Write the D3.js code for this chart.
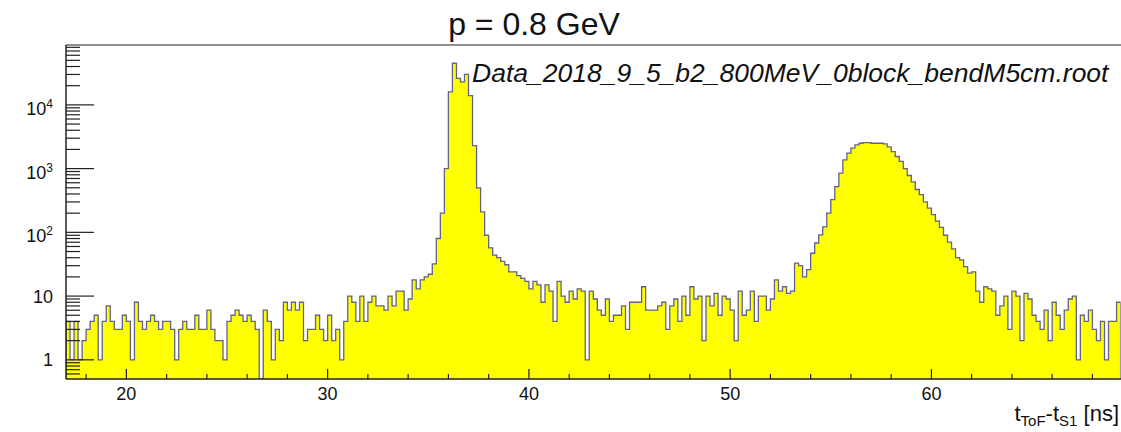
<!DOCTYPE html>
<html>
<head>
<meta charset="utf-8">
<script src="https://cdn.jsdelivr.net/npm/d3@7"></script>
<style>
  body { margin: 0; background: #fff; }
  svg { display: block; font-family: "Liberation Sans", Arial, Helvetica, sans-serif; }
</style>
</head>
<body>
<div id="chart"></div>
<script>
// ---- histogram data (0.2 ns bins starting at 17 ns) ----
const binStart = 17.0;
const binWidth = 0.2;
const counts = [
  4, 1, 4, 1, 2, 3, 4, 5, 1, 4,
  7, 4, 3, 3, 5, 4, 1, 8, 4, 3,
  4, 5, 4, 3, 4, 4, 3, 1, 3, 4,
  3, 3, 5, 3, 3, 6, 3, 2, 2, 1,
  4, 5, 6, 5, 4, 5, 4, 3, 0, 6,
  4, 1, 3, 2, 8, 6, 8, 6, 8, 2,
  3, 3, 5, 3, 2, 5, 2, 3, 1, 4,
  10, 8, 4, 10, 4, 8, 10, 7, 7, 6,
  10, 7, 12, 12, 6, 9, 18, 13, 18, 20,
  22, 32, 80, 200, 1000, 16000, 45000, 26000, 23000, 30000,
  14000, 2300, 500, 210, 90, 57, 44, 40, 35, 31,
  24, 24, 21, 19, 17, 13, 17, 15, 8, 15,
  12, 4, 17, 10, 8, 12, 9, 13, 12, 1,
  12, 9, 6, 5, 9, 4, 5, 5, 7, 3,
  8, 8, 8, 14, 6, 6, 6, 7, 8, 3,
  7, 9, 4, 10, 5, 14, 9, 10, 2, 10,
  7, 11, 5, 10, 9, 6, 2, 12, 5, 6,
  12, 4, 10, 10, 6, 9, 18, 12, 14, 11,
  12, 33, 30, 20, 26, 47, 68, 91, 122, 200,
  325, 520, 850, 1370, 1750, 2100, 2350, 2500, 2550, 2550,
  2500, 2500, 2500, 2450, 2200, 1850, 1550, 1300, 1000, 780,
  620, 470, 390, 300, 240, 190, 150, 120, 90, 70,
  55, 40, 37, 29, 23, 24, 12, 8, 14, 13,
  12, 5, 7, 10, 3, 12, 10, 2, 11, 9,
  5, 4, 3, 6, 2, 8, 5, 3, 6, 9,
  10, 1, 5, 4, 6, 3, 2, 4, 1, 4,
  4, 8
];

const xRange = [17, 69.4];
const yRange = [0.5, 87000];
const xMajorTicks = [20, 30, 40, 50, 60];
const xMinorStep = 2;
const yMajorTicks = [1, 10, 100, 1000, 10000];
const yTickBase = ["1", "10", "10", "10", "10"];
const yTickExp = ["", "", "2", "3", "4"];

const titleText = "p = 0.8 GeV";
const fileText = "Data_2018_9_5_b2_800MeV_0block_bendM5cm.root";

// ---- layout ----
const width = 1121, height = 432;
const frame = { left: 66, top: 45, right: 1120.6, bottom: 379 };

const svg = d3.select("#chart").append("svg")
    .attr("width", width)
    .attr("height", height);

const x = d3.scaleLinear().domain(xRange).range([frame.left, frame.right]);
const y = d3.scaleLog().domain(yRange).range([frame.bottom, frame.top]).clamp(true);

// bins
let bins = counts.map((c, i) => ({
    x0: binStart + i * binWidth,
    x1: binStart + (i + 1) * binWidth,
    v: c
}));

svg.append("clipPath").attr("id", "frameClip")
  .append("rect")
    .attr("x", frame.left).attr("y", frame.top)
    .attr("width", frame.right - frame.left)
    .attr("height", frame.bottom - frame.top);

// step outline points
let pts = [[x(bins[0].x0), frame.bottom]];
bins.forEach(b => {
    let yy = b.v > 0 ? y(b.v) : frame.bottom;
    pts.push([x(b.x0), yy]);
    pts.push([x(b.x1), yy]);
});
pts.push([x(bins[bins.length - 1].x1), frame.bottom]);

let line = d3.line();

let histG = svg.append("g").attr("clip-path", "url(#frameClip)");

histG.append("path")
    .attr("d", line(pts) + "Z")
    .attr("fill", "#ffff00")
    .attr("stroke", "none");

histG.append("path")
    .attr("d", line(pts))
    .attr("fill", "none")
    .attr("stroke", "#62628a")
    .attr("stroke-width", 1.3);

// frame
let axisColor = "#222";
svg.append("line")
    .attr("x1", frame.left).attr("x2", width)
    .attr("y1", frame.top).attr("y2", frame.top)
    .attr("stroke", axisColor).attr("stroke-width", 1.2);
svg.append("line")
    .attr("x1", frame.left).attr("x2", width)
    .attr("y1", frame.bottom).attr("y2", frame.bottom)
    .attr("stroke", axisColor).attr("stroke-width", 1.5);
svg.append("line")
    .attr("x1", frame.left).attr("x2", frame.left)
    .attr("y1", frame.top).attr("y2", frame.bottom)
    .attr("stroke", axisColor).attr("stroke-width", 1.5);

// x ticks
let xMinor = d3.range(18, xRange[1], xMinorStep).filter(v => !xMajorTicks.includes(v));
svg.append("g").selectAll("line.xminor")
    .data(xMinor).enter().append("line")
    .attr("x1", d => x(d)).attr("x2", d => x(d))
    .attr("y1", frame.bottom).attr("y2", frame.bottom - 5)
    .attr("stroke", axisColor).attr("stroke-width", 1.2);
svg.append("g").selectAll("line.xmajor")
    .data(xMajorTicks).enter().append("line")
    .attr("x1", d => x(d)).attr("x2", d => x(d))
    .attr("y1", frame.bottom).attr("y2", frame.bottom - 10)
    .attr("stroke", axisColor).attr("stroke-width", 1.2);
svg.append("g").selectAll("text")
    .data(xMajorTicks).enter().append("text")
    .attr("x", d => x(d))
    .attr("y", frame.bottom + 21)
    .attr("text-anchor", "middle")
    .attr("font-size", 18)
    .attr("fill", "#111")
    .text(d => d);

// y ticks
let yMinor = y.ticks().filter(v => !yMajorTicks.includes(v) && v > yRange[0]);
svg.append("g").selectAll("line")
    .data(yMinor).enter().append("line")
    .attr("x1", frame.left).attr("x2", frame.left + 14)
    .attr("y1", d => y(d)).attr("y2", d => y(d))
    .attr("stroke", axisColor).attr("stroke-width", 1.2);
svg.append("g").selectAll("line")
    .data(yMajorTicks).enter().append("line")
    .attr("x1", frame.left).attr("x2", frame.left + 28)
    .attr("y1", d => y(d)).attr("y2", d => y(d))
    .attr("stroke", axisColor).attr("stroke-width", 1.2);

let yLabels = svg.append("g").selectAll("text")
    .data(yMajorTicks).enter().append("text")
    .attr("x", 53)
    .attr("y", (d, i) => y(d) + (yTickExp[i] ? 10 : 6.5))
    .attr("text-anchor", "end")
    .attr("font-size", 18)
    .attr("fill", "#111");
yLabels.append("tspan").text((d, i) => yTickBase[i]);
yLabels.append("tspan")
    .attr("font-size", 12)
    .attr("dy", -7)
    .text((d, i) => yTickExp[i]);

// title
svg.append("text")
    .attr("x", 534)
    .attr("y", 35)
    .attr("text-anchor", "middle")
    .attr("font-size", 32)
    .attr("fill", "#111")
    .text(titleText);

// file name label
svg.append("text")
    .attr("x", 472)
    .attr("y", 82)
    .attr("font-size", 26.5)
    .attr("font-style", "italic")
    .attr("fill", "#111")
    .text(fileText);

// x axis title: t_ToF - t_S1 [ns]
let xt = svg.append("text")
    .attr("x", 1119)
    .attr("y", 421)
    .attr("text-anchor", "end")
    .attr("font-size", 22)
    .attr("fill", "#111");
xt.append("tspan").text("t");
xt.append("tspan").attr("font-size", 15).attr("dy", 5).text("ToF");
xt.append("tspan").attr("dy", -5).text("-t");
xt.append("tspan").attr("font-size", 15).attr("dy", 5).text("S1");
xt.append("tspan").attr("dy", -5).text(" [ns]");
</script>
</body>
</html>
